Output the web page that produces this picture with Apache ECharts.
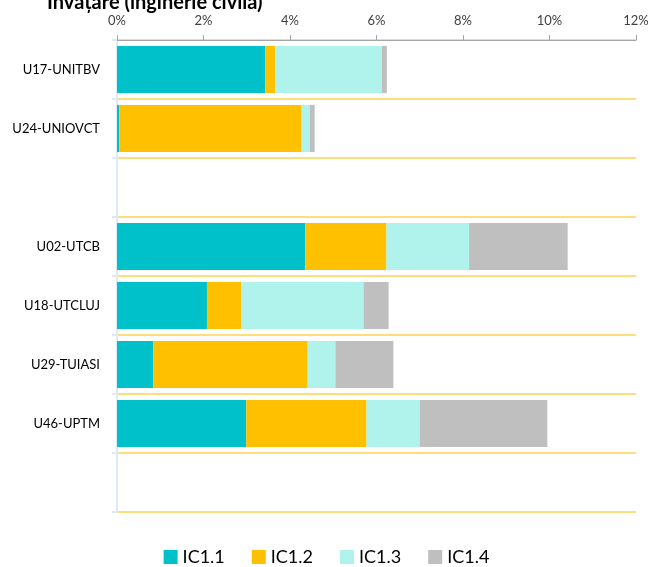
<!DOCTYPE html>
<html>
<head>
<meta charset="utf-8">
<script src="https://cdn.jsdelivr.net/npm/echarts@6/dist/echarts.min.js"></script>
<style>
  html, body { margin: 0; padding: 0; background: #fff; }
  #chart { width: 653px; height: 567px; }
</style>
</head>
<body>
<div id="chart"></div>
<script>
// categorii (randuri goale pastrate ca spatii)
const categories = ['U17-UNITBV', 'U24-UNIOVCT', ' ', 'U02-UTCB', 'U18-UTCLUJ', 'U29-TUIASI', 'U46-UPTM', '  '];
const seriesNames = ['IC1.1', 'IC1.2', 'IC1.3', 'IC1.4'];
const ic11 = [3.43, 0.05, null, 4.35, 2.08, 0.84, 2.99, null];
const ic12 = [0.23, 4.22, null, 1.88, 0.79, 3.57, 2.78, null];
const ic13 = [2.46, 0.19, null, 1.91, 2.83, 0.64, 1.23, null];
const ic14 = [0.12, 0.11, null, 2.28, 0.58, 1.34, 2.95, null];
const colors = ['#00C1CA', '#FFC000', '#AFF3EC', '#BFBFBF'];

const font = 'Lato, "Open Sans", sans-serif';

let myChart = echarts.init(document.getElementById('chart'));

const option = {
  animation: false,
  title: {
    text: 'Învățare (inginerie civilă)',
    left: 42,
    top: -12,
    textStyle: { fontFamily: font, fontSize: 20, fontWeight: 'bold', color: '#000' }
  },
  legend: {
    bottom: -4,
    left: 'center',
    itemWidth: 14,
    itemHeight: 14,
    itemGap: 27,
    icon: 'rect',
    textStyle: { fontFamily: font, fontSize: 18, color: '#000' },
    data: seriesNames
  },
  grid: { left: 117, right: 17, top: 40, bottom: 55 },
  xAxis: {
    type: 'value',
    position: 'top',
    min: 0,
    max: 12,
    interval: 2,
    axisLine: { show: true, lineStyle: { color: '#A6A6A6', width: 1 } },
    axisTick: { show: true, length: 5, lineStyle: { color: '#A6A6A6' } },
    axisLabel: { formatter: '{value}%', fontFamily: font, fontSize: 13, color: '#404040', margin: 13 },
    splitLine: { show: false }
  },
  yAxis: {
    type: 'category',
    inverse: true,
    data: categories,
    axisLine: { show: true, lineStyle: { color: '#DDEBF7', width: 2 } },
    axisTick: { show: true, length: 5, lineStyle: { color: '#DDEBF7', width: 2 } },
    axisLabel: { fontFamily: font, fontSize: 13, color: '#000', margin: 17 },
    splitLine: { show: true, lineStyle: { color: '#FFD24D', width: 1.5 } }
  },
  series: [ic11, ic12, ic13, ic14].map((d, i) => ({
    name: seriesNames[i],
    type: 'bar',
    stack: 'total',
    barCategoryGap: '20%',
    itemStyle: { color: colors[i] },
    data: d
  }))
};

myChart.setOption(option);
</script>
</body>
</html>
